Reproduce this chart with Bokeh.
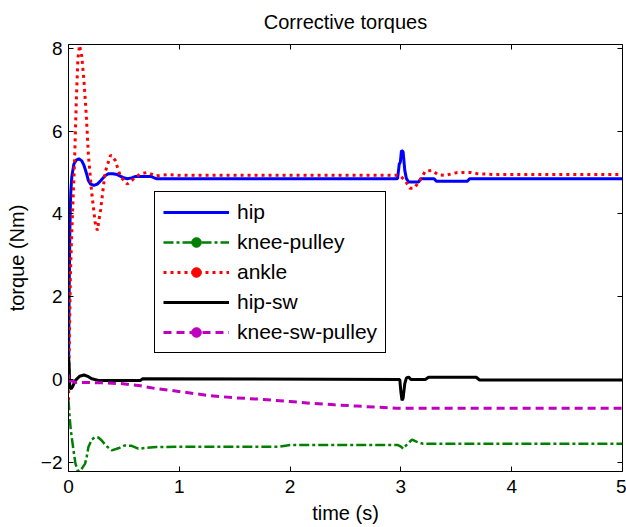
import numpy as np
from bokeh.plotting import figure
from bokeh.models import LinearAxis, Legend, LegendItem, FixedTicker, Range1d, CustomJSTickFormatter
from bokeh.embed import file_html
from bokeh.resources import INLINE

# ---------------- data ----------------
hip_t = [0, 0.005, 0.012, 0.02, 0.03, 0.048, 0.07, 0.093, 0.12, 0.14, 0.16, 0.18, 0.2, 0.23,
         0.26, 0.29, 0.33, 0.36, 0.4, 0.44, 0.49, 0.53, 0.57, 0.6, 0.75, 0.78, 0.8, 2.97, 2.985,
         2.995, 3.005, 3.02, 3.035, 3.05, 3.07, 3.16, 3.18, 3.3, 3.32, 3.6, 3.62, 5.0]
hip_v = [0, 1.8, 3.6, 4.5, 4.9, 5.2, 5.3, 5.33, 5.28, 5.17, 5.0, 4.8, 4.72, 4.69,
         4.72, 4.8, 4.92, 4.97, 4.97, 4.95, 4.88, 4.85, 4.87, 4.9, 4.9, 4.86, 4.85, 4.85, 5.2,
         5.25, 5.53, 5.5, 5.05, 4.85, 4.77, 4.77, 4.85, 4.85, 4.79, 4.79, 4.85, 4.85]

knee_t = [0, 0.01, 0.02, 0.033, 0.05, 0.063, 0.08, 0.095, 0.12, 0.15, 0.165, 0.18, 0.21, 0.24,
          0.27, 0.3, 0.34, 0.39, 0.45, 0.51, 0.57, 0.63, 0.7, 0.79, 1.0, 1.9, 2.0, 2.97, 3.0,
          3.02, 3.05, 3.1, 3.14, 3.2, 5.0]
knee_v = [-0.5, -0.9, -1.2, -1.47, -1.8, -2.03, -2.18, -2.22, -2.15, -2.03, -1.85, -1.63, -1.45, -1.39,
          -1.4, -1.47, -1.6, -1.71, -1.66, -1.59, -1.6, -1.67, -1.65, -1.63, -1.62, -1.62, -1.58, -1.58, -1.62,
          -1.67, -1.58, -1.45, -1.5, -1.55, -1.55]

ankle_t = [0, 0.008, 0.018, 0.03, 0.042, 0.055, 0.07, 0.085, 0.1, 0.12, 0.14, 0.16, 0.18, 0.21,
           0.24, 0.26, 0.29, 0.33, 0.38, 0.42, 0.47, 0.53, 0.59, 0.65, 0.71, 0.79, 0.9, 1.0, 2.97,
           3.0, 3.04, 3.08, 3.12, 3.17, 3.22, 3.28, 3.34, 3.4, 3.51, 3.63, 3.69, 3.84, 5.0]
ankle_v = [-0.5, 1.0, 2.6, 3.6, 4.4, 5.3, 6.7, 7.75, 8.07, 7.8, 7.2, 6.4, 5.4, 4.5,
           3.8, 3.6, 4.1, 5.0, 5.42, 5.3, 4.9, 4.72, 4.85, 4.97, 5.0, 4.92, 4.95, 4.93, 4.93,
           4.9, 4.8, 4.62, 4.62, 4.8, 5.03, 5.05, 4.94, 4.93, 5.0, 5.0, 4.97, 4.95, 4.95]

hipsw_t = [0, 0.006, 0.012, 0.025, 0.035, 0.063, 0.1, 0.14, 0.18, 0.21, 0.27, 0.65, 0.67,
           2.99, 3.0, 3.01, 3.02, 3.035, 3.05, 3.07, 3.09, 3.22, 3.25, 3.68, 3.71, 5.0]
hipsw_v = [0.55, 0.3, -0.2, -0.22, -0.18, -0.02, 0.08, 0.11, 0.07, 0.02, -0.02, -0.02, 0.02,
           0.0, -0.3, -0.5, -0.45, -0.1, 0.04, 0.06, 0.0, 0.0, 0.055, 0.055, -0.01, -0.01]

kneesw_t = [0, 0.008, 0.02, 0.06, 0.18, 0.3, 0.49, 0.65, 0.79, 0.95, 1.03, 1.28, 1.5, 1.76,
            2.0, 2.18, 2.4, 2.6, 2.8, 2.96, 3.05, 5.0]
kneesw_v = [0.12, -0.12, -0.02, -0.07, -0.07, -0.08, -0.1, -0.15, -0.22, -0.27, -0.3, -0.39, -0.44, -0.48,
            -0.53, -0.57, -0.61, -0.64, -0.67, -0.69, -0.69, -0.69]

x_ticks = [0, 1, 2, 3, 4, 5]
y_ticks = [-2, 0, 2, 4, 6, 8]
labels = ["hip", "knee-pulley", "ankle", "hip-sw", "knee-sw-pulley"]

FONT = "Liberation Sans"

p = figure(width=626, height=527, x_range=Range1d(0, 5), y_range=Range1d(-2.22, 8.09),
           output_backend="svg", toolbar_location=None,
           min_border_left=68, min_border_right=4, min_border_top=44, min_border_bottom=56)

p.title.text = "Corrective torques"
p.title.align = "center"
p.title.text_font = FONT
p.title.text_font_size = "20px"
p.title.text_font_style = "normal"
p.title.text_color = "black"
p.title.standoff = 20
p.title.vertical_align = "top"

p.xgrid.visible = False
p.ygrid.visible = False
p.outline_line_color = "black"
p.outline_line_width = 1
p.outline_line_alpha = 1

for ax, ticks in ((p.xaxis[0], x_ticks), (p.yaxis[0], y_ticks)):
    ax.ticker = FixedTicker(ticks=ticks)
    ax.major_tick_in = 5
    ax.major_tick_out = 0
    ax.minor_tick_line_color = None
    ax.axis_line_color = "black"
    ax.major_tick_line_color = "black"
    ax.major_label_text_font = FONT
    ax.major_label_text_font_size = "19px"
    ax.major_label_text_color = "black"
    ax.axis_label_text_font = FONT
    ax.axis_label_text_font_size = "20px"
    ax.axis_label_text_font_style = "normal"
    ax.axis_label_text_color = "black"

p.xaxis.axis_label = "time (s)"
p.yaxis.axis_label = "torque (Nm)"
p.xaxis.major_label_standoff = 8
p.yaxis.major_label_standoff = 6
p.xaxis.axis_label_standoff = 6
p.yaxis.axis_label_standoff = 10

for loc, ticks in (("above", x_ticks), ("right", y_ticks)):
    ax = LinearAxis(ticker=FixedTicker(ticks=ticks))
    ax.major_tick_in = 5
    ax.major_tick_out = 0
    ax.minor_tick_line_color = None
    ax.axis_line_color = None
    ax.major_tick_line_color = "black"
    ax.formatter = CustomJSTickFormatter(code="return '';")
    ax.major_label_standoff = 0
    p.add_layout(ax, loc)

NAN = [float("nan")]

items = []
r = p.line(hip_t, hip_v, line_color="#0000FF", line_width=3)
items.append(LegendItem(label=labels[0], renderers=[r]))

r = p.line(knee_t, knee_v, line_color="#008000", line_width=2.5, line_dash="10 3 3 3")
m = p.scatter(x=NAN, y=NAN, size=7, color="#008000")
items.append(LegendItem(label=labels[1], renderers=[r, m]))

r = p.line(ankle_t, ankle_v, line_color="#FF0000", line_width=3, line_dash="3 4")
m = p.scatter(x=NAN, y=NAN, size=7, color="#FF0000")
items.append(LegendItem(label=labels[2], renderers=[r, m]))

r = p.line(hipsw_t, hipsw_v, line_color="black", line_width=3)
items.append(LegendItem(label=labels[3], renderers=[r]))

r = p.line(kneesw_t, kneesw_v, line_color="#BF00BF", line_width=3, line_dash="8 5")
m = p.scatter(x=NAN, y=NAN, size=7, color="#BF00BF")
items.append(LegendItem(label=labels[4], renderers=[r, m]))

legend = Legend(items=items, location=(86, 118))
legend.border_line_color = "black"
legend.border_line_width = 1
legend.border_line_alpha = 1
legend.background_fill_alpha = 1
legend.label_text_font = FONT
legend.label_text_font_size = "21px"
legend.label_text_color = "black"
legend.glyph_width = 66
legend.glyph_height = 24
legend.label_height = 24
legend.spacing = 6
legend.padding = 8
legend.label_standoff = 8
legend.margin = 0
p.add_layout(legend)

open("out.html", "w").write(file_html(p, INLINE))
